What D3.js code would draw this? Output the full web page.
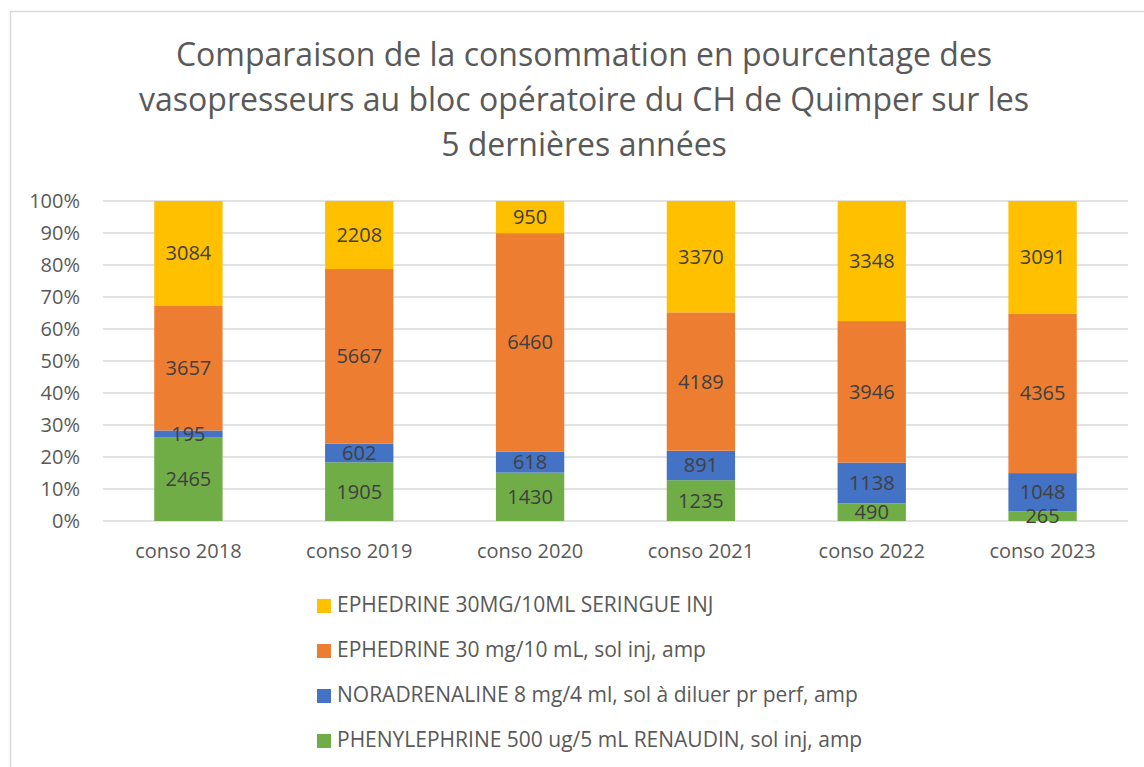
<!DOCTYPE html>
<html lang="fr">
<head>
<meta charset="utf-8">
<title>Consommation vasopresseurs</title>
<script src="https://d3js.org/d3.v7.min.js"></script>
<style>
  body { margin: 0; background: #fff; }
  text { font-family: "Open Sans", "Noto Sans", sans-serif; }
</style>
</head>
<body>
<script>
// data
var categories = ["conso 2018", "conso 2019", "conso 2020", "conso 2021", "conso 2022", "conso 2023"];
var phenylephrine = [2465, 1905, 1430, 1235, 490, 265];
var noradrenaline = [195, 602, 618, 891, 1138, 1048];
var ephedrineAmp = [3657, 5667, 6460, 4189, 3946, 4365];
var ephedrineSer = [3084, 2208, 950, 3370, 3348, 3091];
var seriesNames = [
  "PHENYLEPHRINE 500 ug/5 mL RENAUDIN, sol inj, amp",
  "NORADRENALINE 8 mg/4 ml, sol à diluer pr perf, amp",
  "EPHEDRINE 30 mg/10 mL, sol inj, amp",
  "EPHEDRINE 30MG/10ML SERINGUE INJ"
];
var seriesColors = ["#70AD47", "#4472C4", "#ED7D31", "#FFC000"];
var yTicks = [0, 0.1, 0.2, 0.3, 0.4, 0.5, 0.6, 0.7, 0.8, 0.9, 1];
var titleLines = [
  "Comparaison de la consommation en pourcentage des",
  "vasopresseurs au bloc opératoire du CH de Quimper sur les",
  "5 dernières années"
];

var w = 1144, h = 767;
var plotLeft = 103, plotRight = 1128, plotTop = 201, plotBottom = 521;

var svg = d3.select("body").append("svg")
  .attr("width", w)
  .attr("height", h);

svg.append("rect").attr("width", w).attr("height", h).attr("fill", "#fff");

// chart border
svg.append("rect")
  .attr("x", 10.5).attr("y", 11.5)
  .attr("width", 1200).attr("height", 800)
  .attr("fill", "none")
  .attr("stroke", "#d9d9d9")
  .attr("stroke-width", 1.5);

// title
svg.append("text")
  .attr("x", 584)
  .attr("y", 66)
  .attr("text-anchor", "middle")
  .attr("fill", "#595959")
  .style("font-size", "32px")
  .selectAll("tspan")
  .data(titleLines)
  .enter().append("tspan")
  .attr("x", 584)
  .attr("dy", function(d, i) { return i === 0 ? 0 : 45; })
  .text(function(d) { return d; });

var series = [phenylephrine, noradrenaline, ephedrineAmp, ephedrineSer];
var rows = categories.map(function(c, i) {
  var r = { cat: c };
  series.forEach(function(s, k) { r["s" + k] = s[i]; });
  return r;
});
var keys = series.map(function(s, k) { return "s" + k; });
var stacked = d3.stack().keys(keys).offset(d3.stackOffsetExpand)(rows);

var x = d3.scaleBand()
  .domain(categories)
  .range([plotLeft, plotRight])
  .paddingInner(0.6)
  .paddingOuter(0.3);

var y = d3.scaleLinear()
  .domain([0, 1])
  .range([plotBottom, plotTop]);

// gridlines
svg.append("g")
  .selectAll("line")
  .data(yTicks)
  .enter().append("line")
  .attr("x1", plotLeft).attr("x2", plotRight)
  .attr("y1", function(d) { return y(d); })
  .attr("y2", function(d) { return y(d); })
  .attr("stroke", "#d9d9d9")
  .attr("stroke-width", 1.5);

// y labels
svg.append("g")
  .selectAll("text")
  .data(yTicks)
  .enter().append("text")
  .attr("x", 80)
  .attr("y", function(d) { return y(d); })
  .attr("dy", "0.35em")
  .attr("text-anchor", "end")
  .attr("fill", "#595959")
  .style("font-size", "20px")
  .text(d3.format(".0%"));

// bars
var groups = svg.append("g")
  .selectAll("g")
  .data(stacked)
  .enter().append("g")
  .attr("fill", function(d, i) { return seriesColors[i]; });

groups.selectAll("rect")
  .data(function(d) { return d; })
  .enter().append("rect")
  .attr("x", function(d) { return x(d.data.cat); })
  .attr("width", x.bandwidth())
  .attr("y", function(d) { return y(d[1]); })
  .attr("height", function(d) { return y(d[0]) - y(d[1]); });

// data labels
stacked.forEach(function(layer, k) {
  svg.append("g")
    .selectAll("text")
    .data(layer)
    .enter().append("text")
    .attr("x", function(d) { return x(d.data.cat) + x.bandwidth() / 2; })
    .attr("y", function(d) { return y((d[0] + d[1]) / 2); })
    .attr("dy", "0.35em")
    .attr("text-anchor", "middle")
    .attr("fill", "#404040")
    .style("font-size", "20px")
    .text(function(d) { return series[k][categories.indexOf(d.data.cat)]; });
});

// x labels
svg.append("g")
  .selectAll("text")
  .data(categories)
  .enter().append("text")
  .attr("x", function(d) { return x(d) + x.bandwidth() / 2; })
  .attr("y", 558)
  .attr("text-anchor", "middle")
  .attr("fill", "#595959")
  .style("font-size", "20px")
  .text(function(d) { return d; });

// legend (top to bottom: reverse order)
var legendOrder = [3, 2, 1, 0];
var legend = svg.append("g")
  .selectAll("g")
  .data(legendOrder)
  .enter().append("g")
  .attr("transform", function(d, i) { return "translate(317," + (605 + i * 45) + ")"; });

legend.append("rect")
  .attr("x", 0).attr("y", -6)
  .attr("width", 14).attr("height", 14)
  .attr("fill", function(d) { return seriesColors[d]; });

legend.append("text")
  .attr("x", 20)
  .attr("y", 0)
  .attr("dy", "0.35em")
  .attr("fill", "#595959")
  .style("font-size", "21px")
  .text(function(d) { return seriesNames[d]; });
</script>
</body>
</html>
